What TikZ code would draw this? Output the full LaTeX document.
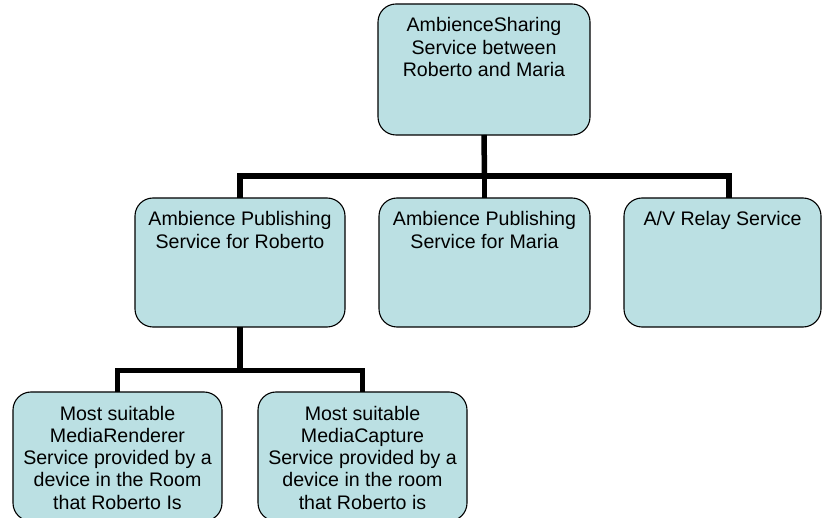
\documentclass[tikz,border=0pt]{standalone}
\usepackage{fontspec}
\setmainfont{Liberation Sans}
\definecolor{boxfill}{RGB}{187,224,227}
\newcommand{\boxcontent}[3]{\parbox[c][#2][t]{#1}{\centering\rule{0pt}{28pt}#3}}
\begin{document}
\begin{tikzpicture}[x=1pt,y=-1pt,
  box/.style={draw=black, line width=1.1pt, fill=boxfill, rounded corners=18pt,
    inner sep=0pt, outer sep=0pt, font=\fontsize{19.6}{22.3}\selectfont},
  conn/.style={line width=5.5pt, draw=black}]
\useasboundingbox (0,0) rectangle (822,518);
\node[box] (top) at (484,69.5) {\boxcontent{212pt}{131pt}{AmbienceSharing\\Service between\\Roberto and Maria}};
\node[box] (c1) at (240,262.5) {\boxcontent{210pt}{129pt}{Ambience Publishing\\Service for Roberto}};
\node[box] (c2) at (484.5,262.5) {\boxcontent{211pt}{129pt}{Ambience Publishing\\Service for Maria}};
\node[box] (c3) at (722.5,262.5) {\boxcontent{197pt}{129pt}{A/V Relay Service}};
\node[box] (b1) at (117.5,456.5) {\boxcontent{209pt}{129pt}{Most suitable\\MediaRenderer\\Service provided by a\\device in the Room\\that Roberto Is}};
\node[box] (b2) at (362.5,456.5) {\boxcontent{209pt}{129pt}{Most suitable\\MediaCapture\\Service provided by a\\device in the room\\that Roberto is}};
\coordinate (bus1) at (484.5,176);
\coordinate (bus2) at (240,370.5);
\draw[conn] (top.south) -- (bus1);
\draw[conn] (c1.north) |- (bus1) -| ([xshift=6.5pt]c3.north);
\draw[conn] (c2.north) -- (c2.north |- bus1);
\draw[conn] (c1.south) -- (bus2);
\draw[conn] (b1.north) |- (bus2) -| (b2.north);
\end{tikzpicture}
\end{document}
